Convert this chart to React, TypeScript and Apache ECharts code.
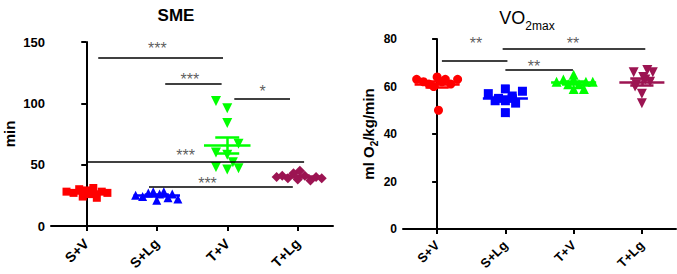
import React, { useEffect, useRef } from "react";
import * as echarts from "echarts";

const categories = ["S+V", "S+Lg", "T+V", "T+Lg"];

// SME (min) values and horizontal scatter offsets per group
const smeSV = [28, 27, 30, 24, 29, 26, 31, 23, 28, 27];
const smeSVx = [-0.28, -0.18, -0.1, -0.05, 0, 0.05, 0.1, 0.15, 0.22, 0.3];
const smeSLg = [25, 24, 27, 28, 21, 26, 28, 23, 26, 22];
const smeSLgx = [-0.3, -0.2, -0.12, -0.05, 0, 0.04, 0.1, 0.16, 0.22, 0.3];
const smeTV = [102, 96, 84, 67, 60, 58, 52, 48, 46, 47];
const smeTVx = [-0.16, 0, 0, 0.16, -0.16, 0, 0.08, -0.16, 0, 0.16];
const smeTLg = [40, 41, 39, 43, 38, 45, 41, 37, 40, 39];
const smeTLgx = [-0.3, -0.22, -0.14, -0.06, 0, 0.03, 0.1, 0.18, 0.26, 0.34];

// VO2max (ml O2/kg/min)
const voSV = [63, 62, 61, 60, 64, 50, 62, 63, 61, 63];
const voSVx = [-0.3, -0.2, -0.12, -0.05, 0, 0.02, 0.07, 0.12, 0.2, 0.3];
const voSLg = [57, 55, 59, 54, 49, 56, 53, 58, 54, 55];
const voSLgx = [-0.25, -0.1, 0, 0, 0, 0.1, 0.15, 0.25, -0.15, 0.1];
const voTV = [62, 63, 61, 65, 63, 59, 59, 61, 62, 62];
const voTVx = [-0.25, -0.15, -0.08, 0, 0, 0, 0.15, 0.08, 0.18, 0.28];
const voTLg = [66, 67, 66, 57, 53, 61, 63, 62, 60, 64];
const voTLgx = [-0.12, 0.08, 0.16, 0, 0, -0.08, 0.05, 0.12, -0.1, 0.02];

const smeTicks = [0, 50, 100, 150];
const voTicks = [0, 20, 40, 60, 80];

// significance brackets: [x1, x2, y]
const smeSigLines = [
  [0.17, 1.94, 137.5],
  [1.12, 1.92, 116],
  [2.1, 2.89, 104],
  [0.02, 3.09, 52],
  [0.89, 2.93, 32],
];
const smeSigLabels = [
  [1.01, 145, "***"],
  [1.47, 119.3, "***"],
  [2.5, 109.5, "*"],
  [1.41, 57.3, "***"],
  [1.72, 34.5, "***"],
];
const voSigLines = [
  [0.07, 1.03, 70.7],
  [0.96, 3.05, 76.1],
  [1.0, 1.99, 67],
];
const voSigLabels = [
  [0.57, 78.3, "**"],
  [1.99, 78.3, "**"],
  [1.42, 68.6, "**"],
];

const colors = ["#ff0000", "#0000ff", "#00ff00", "#9c1452"];
const FONT = "Liberation Sans";

function stats(v: number[]) {
  const n = v.length;
  const m = v.reduce((a, b) => a + b, 0) / n;
  const sd = Math.sqrt(v.reduce((a, b) => a + (b - m) * (b - m), 0) / (n - 1));
  return { m, sem: sd / Math.sqrt(n) };
}

function groupSeries(
  gridIdx: number,
  g: number,
  vals: number[],
  offs: number[],
  symbol: string,
  size: number,
  rotate: number
) {
  const { m, sem } = stats(vals);
  const c = colors[g];
  const seg = (x1: number, y1: number, x2: number, y2: number) => [
    { coord: [x1, y1] },
    { coord: [x2, y2] },
  ];
  return {
    type: "scatter",
    xAxisIndex: gridIdx,
    yAxisIndex: gridIdx,
    symbol,
    symbolSize: size,
    symbolRotate: rotate,
    itemStyle: { color: c, opacity: 1 },
    data: vals.map((v, i) => [g + offs[i], v]),
    silent: true,
    markLine: {
      silent: true,
      symbol: ["none", "none"],
      label: { show: false },
      lineStyle: { color: c, width: 2.5, type: "solid" },
      data: [
        seg(g - 0.33, m, g + 0.33, m),
        seg(g - 0.17, m + sem, g + 0.17, m + sem),
        seg(g - 0.17, m - sem, g + 0.17, m - sem),
        seg(g, m - sem, g, m + sem),
      ],
    },
  };
}

function sigSeries(gridIdx: number, lines: any[], labels: any[]) {
  return {
    type: "scatter",
    xAxisIndex: gridIdx,
    yAxisIndex: gridIdx,
    symbol: "circle",
    symbolSize: 1,
    silent: true,
    itemStyle: { color: "rgba(0,0,0,0)" },
    label: {
      show: true,
      position: "inside",
      formatter: "{b}",
      color: "#333",
      fontSize: 16,
      fontFamily: FONT,
    },
    data: labels.map((l) => ({ name: l[2], value: [l[0], l[1]] })),
    markLine: {
      silent: true,
      symbol: ["none", "none"],
      label: { show: false },
      lineStyle: { color: "#000", width: 1.5, type: "solid" },
      data: lines.map((l) => [{ coord: [l[0], l[2]] }, { coord: [l[1], l[2]] }]),
    },
  };
}

function xAxis(gridIndex: number, fs: number, margin: number) {
  return {
    type: "value",
    gridIndex,
    min: -0.5,
    max: 3.5,
    splitLine: { show: false },
    axisLine: { show: true, onZero: false, lineStyle: { color: "#000", width: 2 } },
    axisTick: {
      show: true,
      customValues: [0, 1, 2, 3],
      length: 5,
      lineStyle: { color: "#000", width: 2 },
    },
    axisLabel: {
      customValues: [0, 1, 2, 3],
      formatter: (v: number) => categories[Math.round(v)],
      rotate: 45,
      color: "#000",
      fontWeight: "bold",
      fontSize: fs,
      fontFamily: FONT,
      margin,
    },
  };
}

function yAxis(gridIndex: number, ticks: number[], fs: number) {
  return {
    type: "value",
    gridIndex,
    min: ticks[0],
    max: ticks[ticks.length - 1],
    interval: ticks[1] - ticks[0],
    splitLine: { show: false },
    axisLine: { show: true, lineStyle: { color: "#000", width: 2 } },
    axisTick: { show: true, length: 5, lineStyle: { color: "#000", width: 2 } },
    axisLabel: {
      color: "#000",
      fontWeight: "bold",
      fontSize: fs,
      fontFamily: FONT,
      margin: 6,
    },
  };
}

export default function App() {
  const ref = useRef<HTMLDivElement>(null);
  useEffect(() => {
    if (!ref.current) return;
    const chart = echarts.init(ref.current, null, { renderer: "svg" });
    const option = {
      animation: false,
      backgroundColor: "#fff",
      grid: [
        { left: 51, right: 344, top: 42, bottom: 48 },
        { left: 403, right: 1, top: 39, bottom: 45 },
      ],
      xAxis: [xAxis(0, 14, 15), xAxis(1, 13, 14)],
      yAxis: [yAxis(0, smeTicks, 13), yAxis(1, voTicks, 12)],
      graphic: [
        {
          type: "text",
          x: 176,
          y: 15,
          style: {
            text: "SME",
            font: `bold 17px "${FONT}"`,
            fill: "#000",
            align: "center",
            verticalAlign: "middle",
          },
        },
        {
          type: "text",
          x: 527,
          y: 16,
          style: {
            text: "{a|VO}{b|2max}",
            fill: "#000",
            align: "center",
            verticalAlign: "middle",
            rich: {
              a: { fontSize: 18, fontFamily: FONT, lineHeight: 22, verticalAlign: "bottom" },
              b: { fontSize: 12, fontFamily: FONT, lineHeight: 22, verticalAlign: "bottom", padding: [0, 0, -5, 0] },
            },
          },
        },
        {
          type: "text",
          x: 9,
          y: 134,
          rotation: Math.PI / 2,
          style: {
            text: "min",
            font: `bold 15px "${FONT}"`,
            fill: "#000",
            align: "center",
            verticalAlign: "middle",
          },
        },
        {
          type: "text",
          x: 367,
          y: 134,
          rotation: Math.PI / 2,
          style: {
            text: "{a|ml O}{b|2}{a|/kg/min}",
            fill: "#000",
            align: "center",
            verticalAlign: "middle",
            rich: {
              a: { fontSize: 15, fontWeight: "bold", fontFamily: FONT, lineHeight: 18, verticalAlign: "bottom" },
              b: { fontSize: 10, fontWeight: "bold", fontFamily: FONT, lineHeight: 18, verticalAlign: "bottom", padding: [0, 0, -3, 0] },
            },
          },
        },
      ],
      series: [
        groupSeries(0, 0, smeSV, smeSVx, "rect", 8, 0),
        groupSeries(0, 1, smeSLg, smeSLgx, "triangle", 9, 0),
        groupSeries(0, 2, smeTV, smeTVx, "triangle", 10, 180),
        groupSeries(0, 3, smeTLg, smeTLgx, "diamond", 10, 0),
        sigSeries(0, smeSigLines, smeSigLabels),
        groupSeries(1, 0, voSV, voSVx, "circle", 9, 0),
        groupSeries(1, 1, voSLg, voSLgx, "rect", 9, 0),
        groupSeries(1, 2, voTV, voTVx, "triangle", 10, 0),
        groupSeries(1, 3, voTLg, voTLgx, "triangle", 10, 180),
        sigSeries(1, voSigLines, voSigLabels),
      ],
    };
    chart.setOption(option as any);
    return () => chart.dispose();
  }, []);
  return (
    <div
      ref={ref}
      style={{ position: "absolute", left: 0, top: 0, width: 677, height: 274 }}
    />
  );
}
